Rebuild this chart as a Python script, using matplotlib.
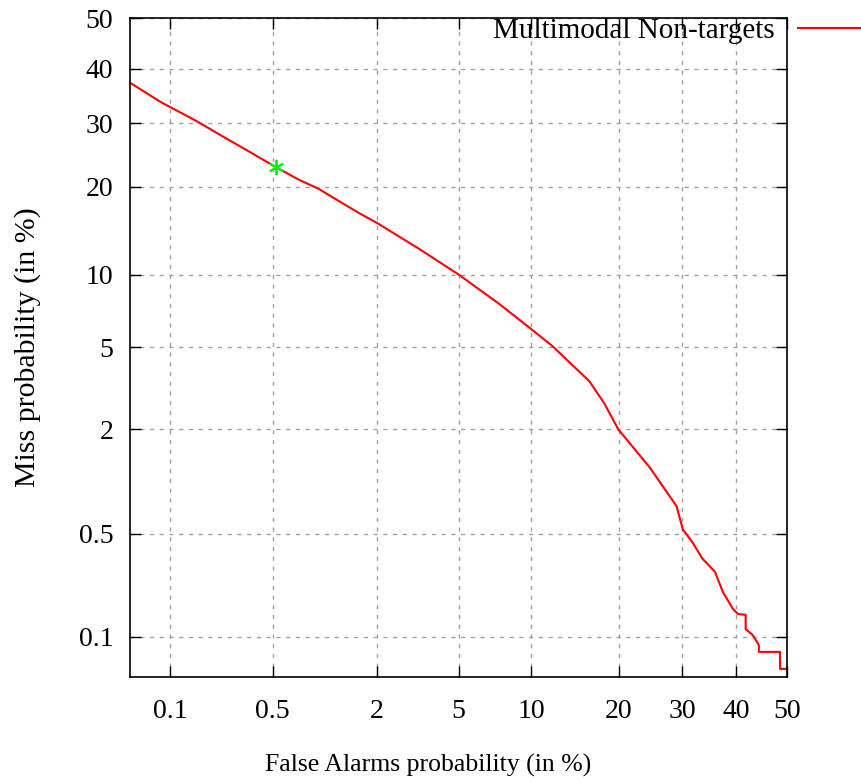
import numpy as np
import matplotlib
matplotlib.use("Agg")
import matplotlib.pyplot as plt
from statistics import NormalDist

# DET curve, values in percent
fa = [0.048, 0.086, 0.151, 0.256, 0.30, 0.526, 0.72, 0.946, 1.59, 1.99, 3.26,
      5.02, 7.46, 10.1, 12.0, 16.1, 18.0, 19.9, 24.6, 29.0, 30.1, 31.7, 33.6,
      35.9, 37.4, 39.3, 40.3, 41.8, 41.8, 43.2, 44.4, 44.4, 48.6, 48.6, 50.0]
miss = [37.6, 33.7, 30.5, 27.2, 26.24, 22.8, 21.0, 19.7, 16.55, 15.34, 12.47,
        9.99, 7.68, 5.97, 5.07, 3.49, 2.72, 2.0, 1.24, 0.74, 0.532, 0.447, 0.347,
        0.285, 0.208, 0.159, 0.146, 0.144, 0.114, 0.103, 0.087, 0.0775, 0.0775,
        0.0577, 0.0577]
# operating point
op_fa = [0.526]
op_miss = [22.8]

xticks = [0.1, 0.5, 2, 5, 10, 20, 30, 40, 50]
yticks = [0.1, 0.5, 2, 5, 10, 20, 30, 40, 50]

nd = NormalDist()
_ppf = np.vectorize(lambda p: nd.inv_cdf(min(max(p / 100.0, 1e-12), 1 - 1e-12)),
                    otypes=[float])
_cdf = np.vectorize(lambda z: 100.0 * nd.cdf(z), otypes=[float])


def fwd(p):
    return _ppf(np.asarray(p, dtype=float))


def inv(z):
    return _cdf(np.asarray(z, dtype=float))


plt.rcParams['font.family'] = ['Liberation Serif', 'DejaVu Serif']

W, H = 862, 782
fig = plt.figure(figsize=(W / 100, H / 100), dpi=100)
ax = fig.add_axes([130 / W, 1 - 677 / H, (787 - 130) / W, (677 - 18) / H])

ax.set_xscale('function', functions=(fwd, inv))
ax.set_yscale('function', functions=(fwd, inv))

ax.plot(fa, miss, color='#ff0000', lw=1.5, label='Multimodal Non-targets')
ax.plot(op_fa, op_miss, ls='none', marker=(6, 2, 0), ms=11, mew=1.3, color='#00ee00')

ax.set_xlim(0.05, 50)
ax.set_ylim(0.05, 50)
ax.set_xticks(xticks)
ax.set_xticklabels([str(t) for t in xticks])
ax.set_yticks(yticks)
ax.set_yticklabels([str(t) for t in yticks])
ax.minorticks_off()
ax.tick_params(direction='in', length=8, width=1, top=True, right=True,
               labelsize=20, color='black')
ax.tick_params(axis='x', pad=16)
ax.tick_params(axis='y', pad=12)

ax.grid(True, color='#a0a0a0', lw=1, ls=(0, (3, 4)))
for s in ax.spines.values():
    s.set_linewidth(1.2)

fig.text(428 / W, 1 - 765 / H, 'False Alarms probability (in %)', ha='center',
         va='center', fontsize=18.5)
fig.text(28 / W, 1 - 347 / H, 'Miss probability (in %)', ha='center',
         va='center', rotation=90, fontsize=21.5)

ax.legend(loc='upper right', bbox_to_anchor=(1.0, 1 - 18 / H),
          bbox_transform=fig.transFigure, markerfirst=False, frameon=False,
          fontsize=21, handlelength=2.2, handletextpad=0.8, borderpad=0,
          borderaxespad=0)

fig.savefig('out.png', dpi=100)
